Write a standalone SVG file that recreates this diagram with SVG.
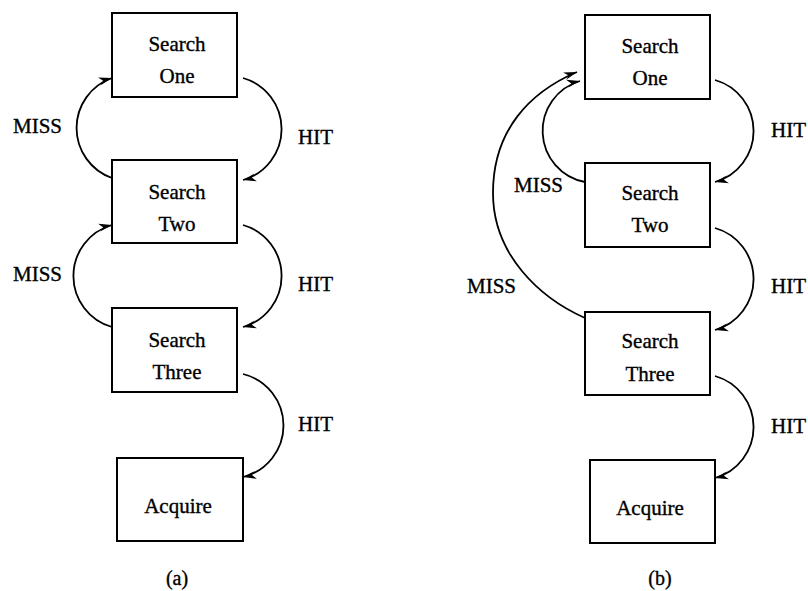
<svg xmlns="http://www.w3.org/2000/svg" width="808" height="591" viewBox="0 0 808 591">
  <style>
    .box { fill: #fff; stroke: #000; stroke-width: 2; }
    .lbl { font-family: "Liberation Serif", "Times New Roman", serif; font-size: 21px; fill: #000; stroke: #000; stroke-width: 0.35; }
    .mid { text-anchor: middle; }
    .edge { fill: none; stroke: #000; stroke-width: 1.8; marker-end: url(#arrow); }
  </style>
  <defs>
    <marker id="arrow" viewBox="-14 -6 16 12" refX="0" refY="0" markerWidth="16" markerHeight="12" markerUnits="userSpaceOnUse" orient="auto">
      <path d="M0,0 L-13,-5 L-9,0 L-13,3 Z" fill="#000"/>
    </marker>
  </defs>
  <rect width="808" height="591" fill="#fff"/>

  <!-- (a) chain: each miss falls back one stage -->
  <g id="a-search-one">
    <rect class="box" x="112" y="13" width="125" height="84"/>
    <text class="lbl mid" x="177" y="51">Search</text>
    <text class="lbl mid" x="177" y="83">One</text>
  </g>
  <g id="a-search-two">
    <rect class="box" x="112" y="160" width="125" height="83"/>
    <text class="lbl mid" x="177" y="199">Search</text>
    <text class="lbl mid" x="177" y="231">Two</text>
  </g>
  <g id="a-search-three">
    <rect class="box" x="112" y="308" width="125" height="84"/>
    <text class="lbl mid" x="177" y="347">Search</text>
    <text class="lbl mid" x="177" y="379">Three</text>
  </g>
  <g id="a-acquire">
    <rect class="box" x="117" y="458" width="126" height="83"/>
    <text class="lbl mid" x="178" y="513">Acquire</text>
  </g>

  <!-- (b) chain: every miss returns to the first stage -->
  <g id="b-search-one">
    <rect class="box" x="585" y="15" width="125" height="84"/>
    <text class="lbl mid" x="650" y="53">Search</text>
    <text class="lbl mid" x="650" y="85">One</text>
  </g>
  <g id="b-search-two">
    <rect class="box" x="585" y="163" width="125" height="84"/>
    <text class="lbl mid" x="650" y="200">Search</text>
    <text class="lbl mid" x="650" y="232">Two</text>
  </g>
  <g id="b-search-three">
    <rect class="box" x="585" y="312" width="125" height="83"/>
    <text class="lbl mid" x="650" y="348">Search</text>
    <text class="lbl mid" x="650" y="381">Three</text>
  </g>
  <g id="b-acquire">
    <rect class="box" x="590" y="460" width="125" height="83"/>
    <text class="lbl mid" x="650" y="515">Acquire</text>
  </g>

  <g id="connectors">
    <!-- (a) -->
    <path class="edge" d="M243,78 A53,53 0 0 1 243,180"/>
    <path class="edge" d="M112,178 A53,53 0 0 1 112,78"/>
    <path class="edge" d="M243,225 A53,53 0 0 1 243,327"/>
    <path class="edge" d="M112,327 A53,53 0 0 1 112,225"/>
    <path class="edge" d="M243,374 A53,53 0 0 1 243,477"/>
    <!-- (b) -->
    <path class="edge" d="M715,80 A53,53 0 0 1 715,182"/>
    <path class="edge" d="M715,228 A53,53 0 0 1 715,330"/>
    <path class="edge" d="M715,376 A53,53 0 0 1 715,478"/>
    <path class="edge" d="M585,182 A52,52 0 0 1 580,81"/>
    <path class="edge" d="M585,318 C540,298 493,255 493,193 C493,130 530,92 577,72"/>
  </g>

  <g id="edge-labels">
    <text class="lbl" x="13" y="133">MISS</text>
    <text class="lbl" x="298" y="144">HIT</text>
    <text class="lbl" x="13" y="281">MISS</text>
    <text class="lbl" x="298" y="291">HIT</text>
    <text class="lbl" x="298" y="431">HIT</text>
    <text class="lbl" x="771" y="137">HIT</text>
    <text class="lbl" x="514" y="192">MISS</text>
    <text class="lbl" x="467" y="293">MISS</text>
    <text class="lbl" x="771" y="293">HIT</text>
    <text class="lbl" x="771" y="433">HIT</text>
  </g>

  <g id="captions">
    <text class="lbl mid" x="177" y="585" style="font-size:20px">(a)</text>
    <text class="lbl mid" x="660" y="585" style="font-size:20px">(b)</text>
  </g>
</svg>
